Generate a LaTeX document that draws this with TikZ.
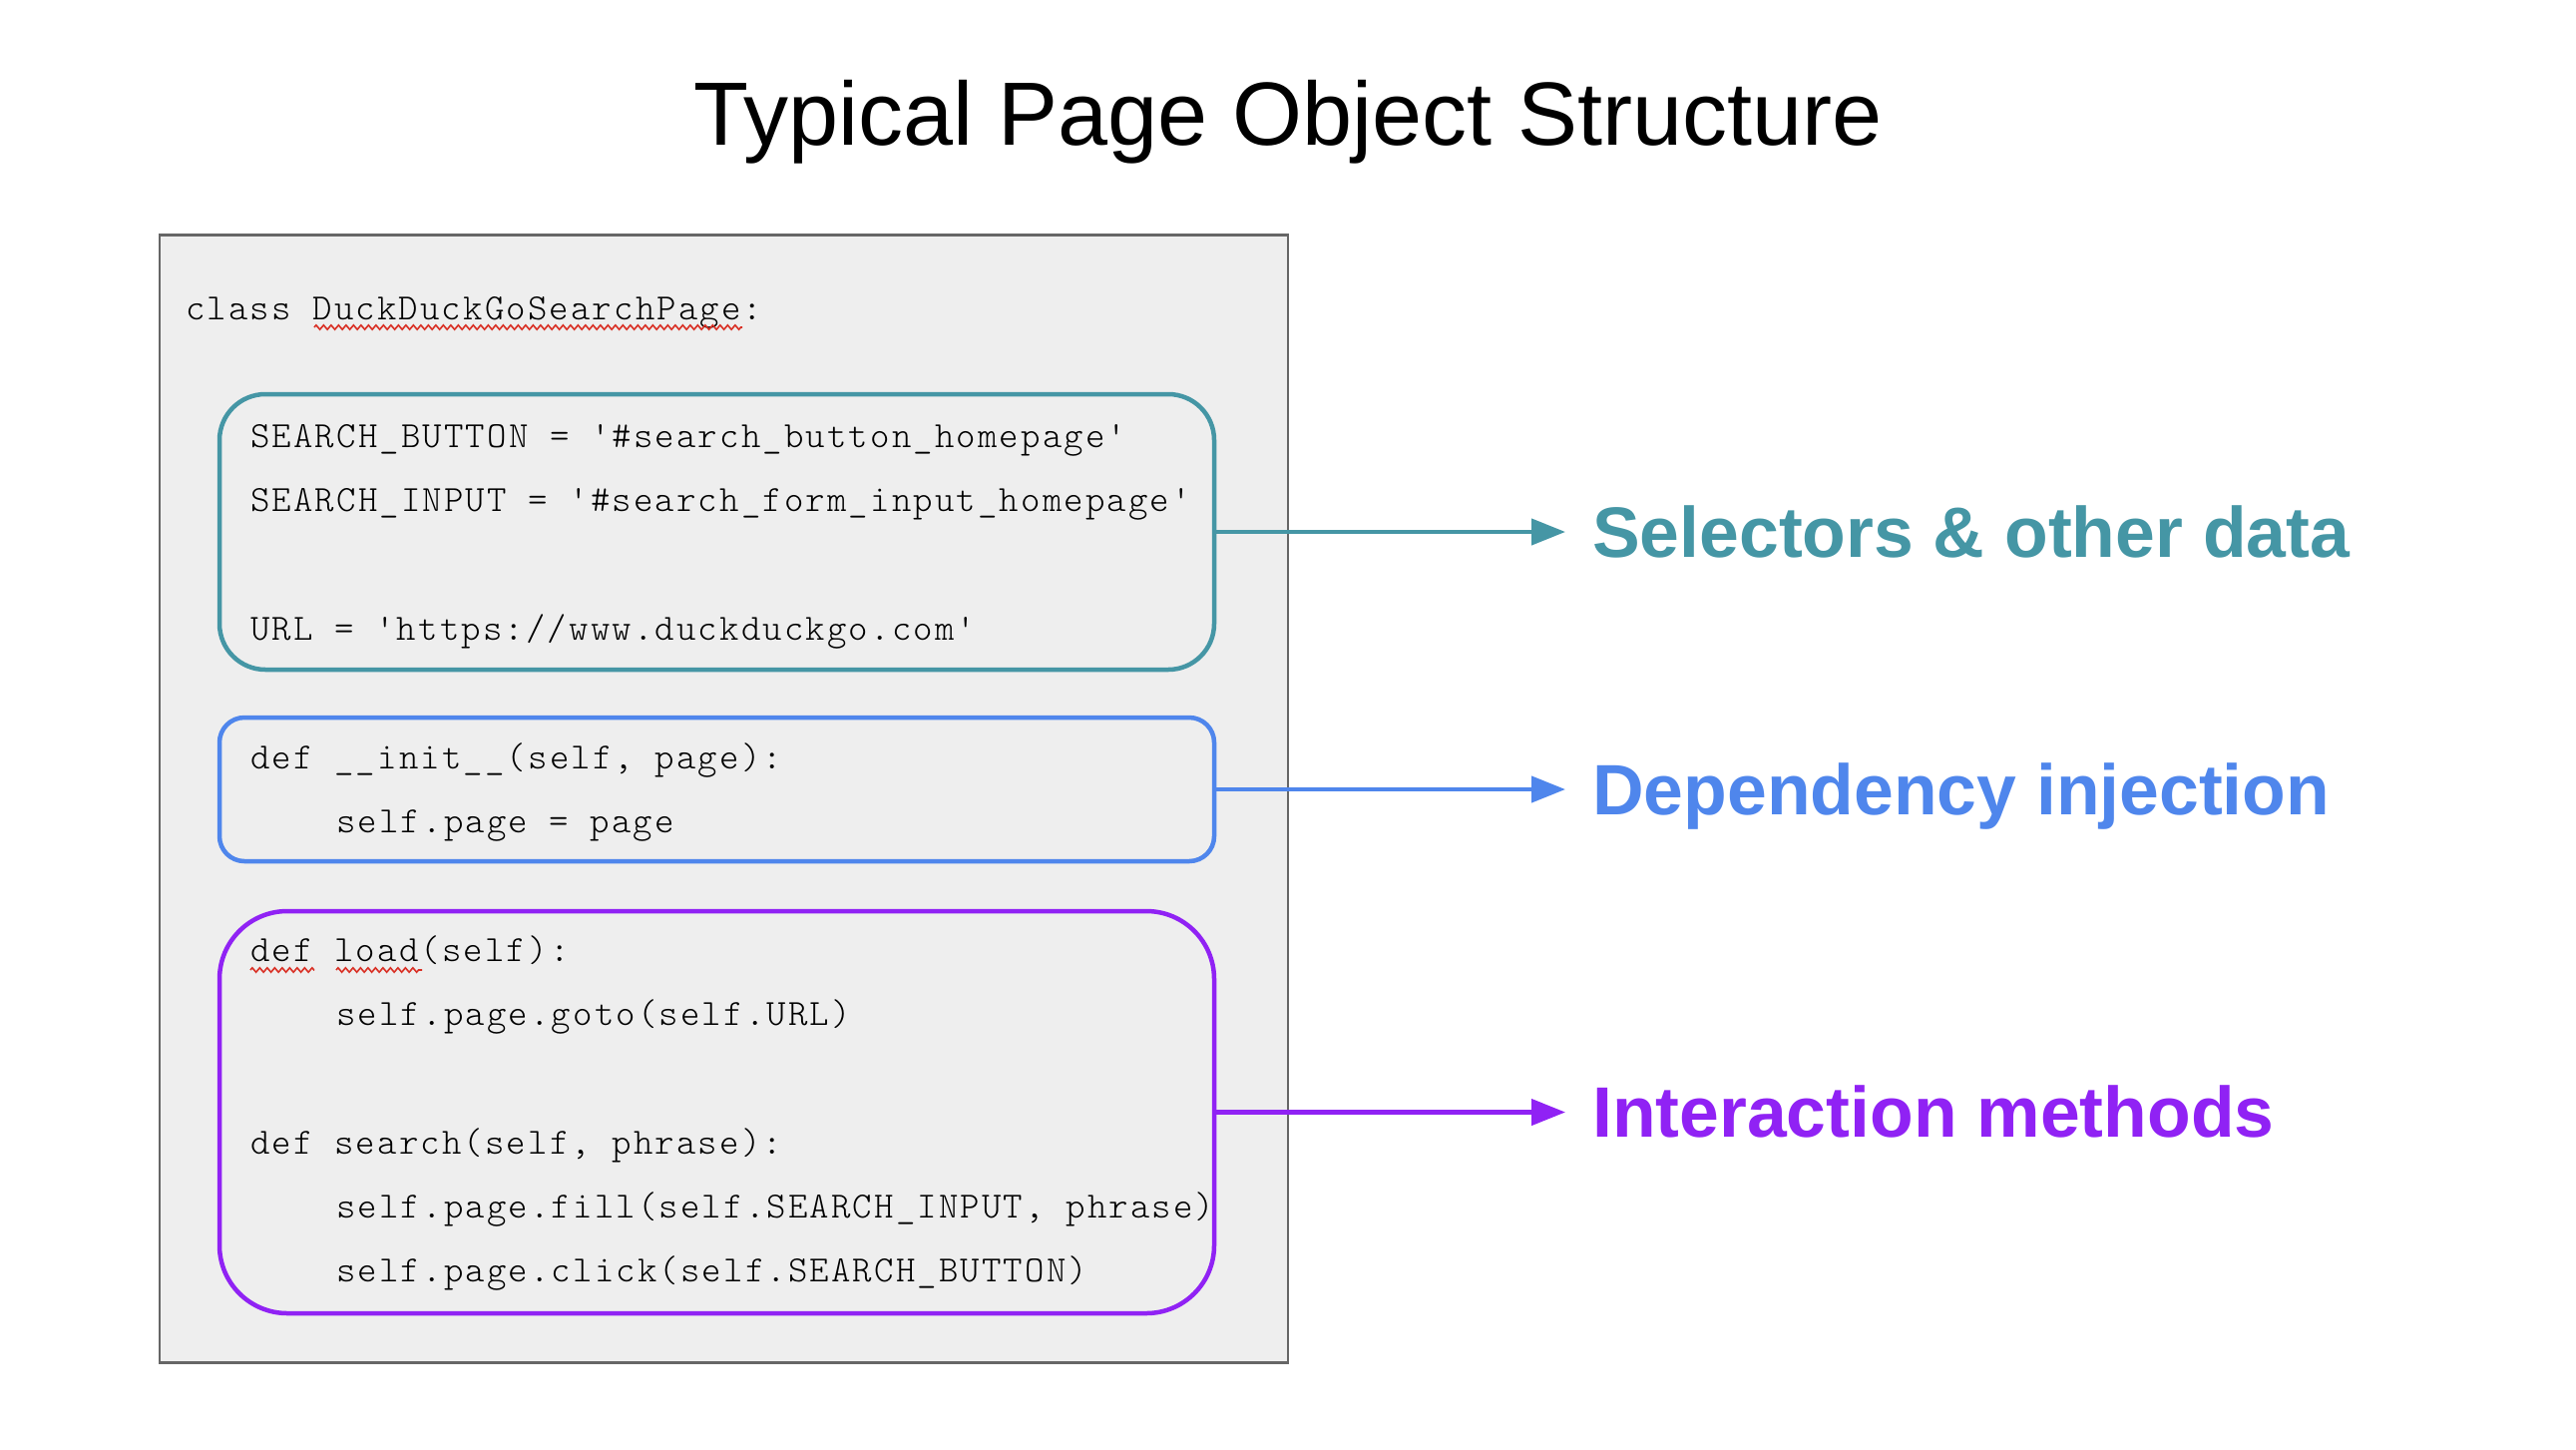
\documentclass[tikz,border=0pt]{standalone}
\usepackage{fontspec}
\setmainfont{Liberation Sans}
\newfontfamily\codefont{lmmonolt10-regular.otf}[LetterSpace=5.8,Ligatures=TeXOff]
\usetikzlibrary{arrows.meta,decorations.pathmorphing}

\definecolor{tealc}{HTML}{4596A5}
\definecolor{bluec}{HTML}{4F86EC}
\definecolor{purplec}{HTML}{9022F4}
\definecolor{panelfill}{HTML}{EEEEEE}
\definecolor{panelline}{HTML}{666666}
\definecolor{spellred}{HTML}{D93025}

\begin{document}
\begin{tikzpicture}[x=1pt,y=-1pt,
  panel/.style={draw=panelline, fill=panelfill, line width=2.7pt, inner sep=0pt,
    minimum width=1131pt, minimum height=1130pt},
  group/.style 2 args={draw=#1, line width=4.5pt, rounded corners=#2, inner sep=0pt,
    minimum width=997pt},
  code/.style={anchor=base west, inner sep=0pt, text=black,
    font=\codefont\fontsize{37}{44}\selectfont},
  flow/.style={draw=#1, line width=4.2pt, -{Triangle[length=34pt,width=26pt]}},
  lbl/.style={anchor=base west, inner sep=0pt, text=#1,
    font=\bfseries\fontsize{71.5}{86}\selectfont},
  squiggle/.style={draw=spellred, line width=1.6pt, decorate,
    decoration={zigzag, segment length=7.5pt, amplitude=2.2pt}}
]
% page
\fill[white] (0,0) rectangle (2582,1452);
\useasboundingbox (0,0) rectangle (2582,1452);

% title
\node[anchor=base, inner sep=0pt, font=\fontsize{90}{108}\selectfont] (title)
  at (1291,145) {Typical Page Object Structure};

% class panel
\node[panel] (panel) at (725.5,800.5) {};

% grouped regions of the class body
\node[group={tealc}{46pt}, minimum height=276pt] (selbox) at (718.5,533) {};
\node[group={bluec}{25pt}, minimum height=144pt] (depbox) at (718.5,791) {};
\node[group={purplec}{68pt}, minimum height=403pt] (actbox) at (718.5,1114.5) {};

% code lines
\node[code] (cls)  at (186,320)    {class DuckDuckGoSearchPage:};
\node[code] (sb)   at (251,448.6)  {SEARCH\_BUTTON = '\#search\_button\_homepage'};
\node[code] (si)   at (251,512.9)  {SEARCH\_INPUT = '\#search\_form\_input\_homepage'};
\node[code] (url)  at (251,641.5)  {URL = 'https://www.duckduckgo.com'};
\node[code] (init) at (251,770)    {def \_\_init\_\_(self, page):};
\node[code] (asg)  at (337,834.3)  {self.page = page};
\node[code] (ld)   at (251,963)    {def load(self):};
\node[code] (gt)   at (337,1027.3) {self.page.goto(self.URL)};
\node[code] (srch) at (251,1156)   {def search(self, phrase):};
\node[code] (fl)   at (337,1220.3) {self.page.fill(self.SEARCH\_INPUT, phrase)};
\node[code] (clk)  at (337,1284.6) {self.page.click(self.SEARCH\_BUTTON)};

% spell-check underlines
\draw[squiggle] (315,328) -- (744,328);
\draw[squiggle] (251,972) -- (315,972);
\draw[squiggle] (337,972) -- (423,972);

% labels and arrows
\node[lbl=tealc]   (selLbl) at (1596,558)  {Selectors \& other data};
\node[lbl=bluec]   (depLbl) at (1596,816)  {Dependency injection};
\node[lbl=purplec] (actLbl) at (1596,1139) {Interaction methods};

\coordinate (selTip) at (1569,533);
\coordinate (depTip) at (1569,791);
\coordinate (actTip) at (1569,1114.5);

\draw[flow=tealc]   (selbox.east) -- (selTip);
\draw[flow=bluec]   (depbox.east) -- (depTip);
\draw[flow=purplec] (actbox.east) -- (actTip);
\end{tikzpicture}
\end{document}
